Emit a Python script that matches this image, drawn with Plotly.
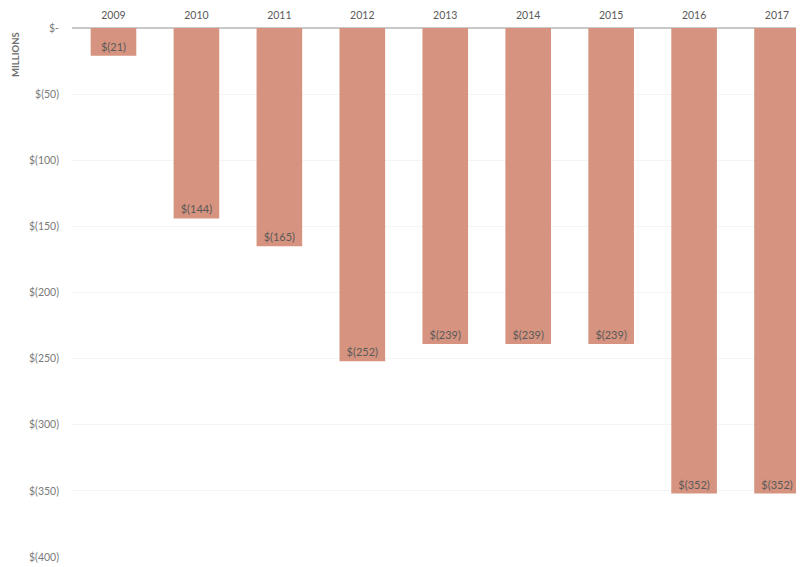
import plotly.graph_objects as go

years = ["2009", "2010", "2011", "2012", "2013", "2014", "2015", "2016", "2017"]
values = [-21, -144, -165, -252, -239, -239, -239, -352, -352]
tick_vals = [0, -50, -100, -150, -200, -250, -300, -350, -400]
tick_text = ["$-", "$(50)", "$(100)", "$(150)", "$(200)", "$(250)", "$(300)", "$(350)", "$(400)"]
labels = ["$(%d)" % (-v) for v in values]

# page body has an 8px margin; figure sized so the plot area lands as in the reference
W, H = 796, 559
L, T, B = 64, 20, 10
plot_w = W - L
plot_h = H - T - B

fig = go.Figure(go.Bar(
    x=years, y=values, text=labels, textposition="inside", insidetextanchor="end",
    textangle=0,
    marker=dict(color="#D6937F", line=dict(width=0)),
    width=0.55,
    textfont=dict(family="Lato", size=11, color="#5a5a5a"),
    cliponaxis=False,
))

fig.update_layout(
    width=W, height=H,
    margin=dict(l=L, r=0, t=T, b=B),
    plot_bgcolor="white", paper_bgcolor="white",
    showlegend=False,
    font=dict(family="Lato", color="#6e6e6e", size=10.5),
    xaxis=dict(side="top", type="category", range=[-0.5, 8.325], showgrid=False,
               ticks="", showline=False, ticklabelstandoff=6,
               tickfont=dict(size=10.5, color="#595959")),
    yaxis=dict(range=[-400, 0], tickvals=tick_vals, ticktext=tick_text,
               showgrid=True, gridcolor="#f4f4f4", gridwidth=1,
               zeroline=True, zerolinecolor="#c8c8c8", zerolinewidth=1.5,
               ticks="", ticklabelstandoff=12, tickfont=dict(size=10.5, color="#7a7a7a")),
    annotations=[dict(text="<b>MILLIONS</b>", xref="paper", yref="paper",
                      x=-(L - 7) / plot_w, y=1 - (55 - 8 - T) / plot_h,
                      xanchor="center", yanchor="middle",
                      showarrow=False, textangle=-90,
                      font=dict(size=9.5, color="#707070", family="Lato"))],
)

fig.write_html("out.html")
